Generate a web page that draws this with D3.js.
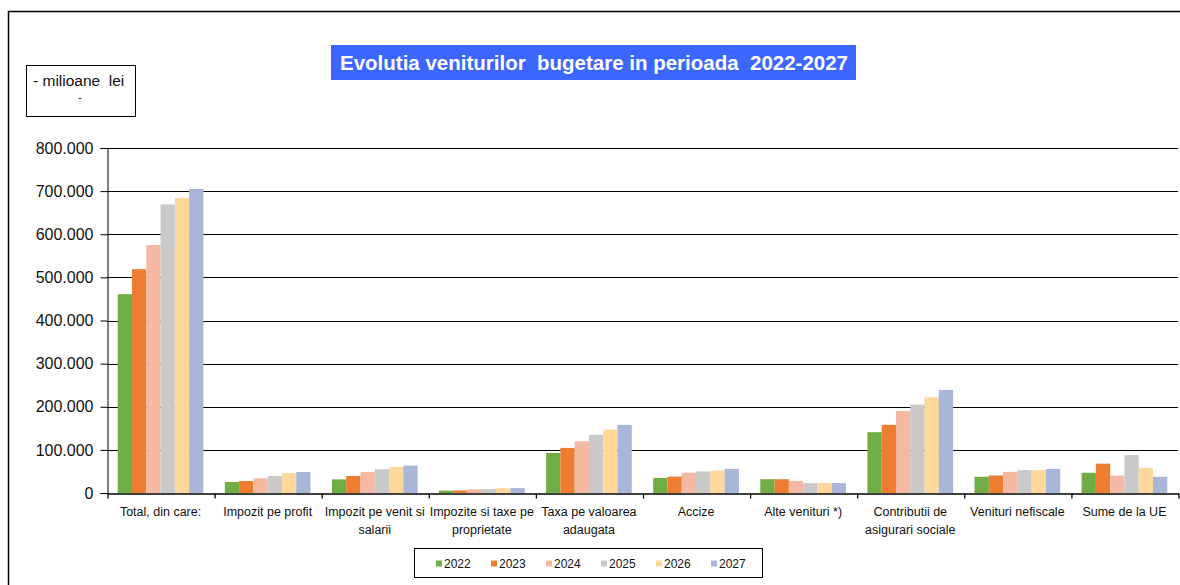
<!DOCTYPE html>
<html>
<head>
<meta charset="utf-8">
<script src="https://cdn.jsdelivr.net/npm/d3@7"></script>
<style>
	body { margin: 0; background: #fff; }
	svg { display: block; font-family: "Liberation Sans", Arial, sans-serif; }
	.pre { white-space: pre; }
</style>
</head>
<body>
<script>
//categories, two lines each for the axis labels
let categories = [
	["Total, din care:"],
	["Impozit pe profit"],
	["Impozit pe venit si", "salarii"],
	["Impozite si taxe pe", "proprietate"],
	["Taxa pe valoarea", "adaugata"],
	["Accize"],
	["Alte venituri *)"],
	["Contributii de", "asigurari sociale"],
	["Venituri nefiscale"],
	["Sume de la UE"]
];

let years = ["2022", "2023", "2024", "2025", "2026", "2027"];

//values per year, in the same order as categories (milioane lei)
let v2022 = [461000, 25500, 31600, 5500, 93000, 35000, 32000, 141000, 37600, 47000];
let v2023 = [519000, 27800, 39400, 6000, 104600, 38000, 32000, 158000, 40600, 68000];
let v2024 = [575000, 34000, 48700, 8500, 120000, 47000, 28000, 190000, 49000, 40600];
let v2025 = [669000, 39400, 55000, 9000, 135000, 50000, 23000, 205000, 53000, 88000];
let v2026 = [684000, 46000, 60300, 11000, 147000, 52000, 23000, 222000, 53000, 58500];
let v2027 = [705000, 48700, 63400, 11500, 158000, 56000, 23000, 239000, 56000, 37600];

let yTicks = [0, 100000, 200000, 300000, 400000, 500000, 600000, 700000, 800000];

let colors = ["#70ad47", "#ed7d31", "#f4b8a3", "#c9c9c9", "#fed79b", "#a8b6da"];

let series = [v2022, v2023, v2024, v2025, v2026, v2027];

let svg = d3.select("body").append("svg")
	.attr("width", 1180)
	.attr("height", 585);

//outer frame (top and left edges only are visible)
svg.append("path")
	.attr("d", "M8.5,585 V11.5 H1180")
	.attr("fill", "none")
	.attr("stroke", "#000")
	.attr("stroke-width", 1.5);

//title
svg.append("rect")
	.attr("x", 331).attr("y", 45)
	.attr("width", 525).attr("height", 35)
	.attr("fill", "#3b66ff");

svg.append("text")
	.attr("class", "pre")
	.attr("x", 340).attr("y", 70)
	.attr("fill", "#fff")
	.attr("font-weight", "bold")
	.attr("font-size", 21)
	.attr("textLength", 508)
	.attr("lengthAdjust", "spacingAndGlyphs")
	.text("Evolutia veniturilor  bugetare in perioada  2022-2027");

//unit box
svg.append("rect")
	.attr("x", 26.5).attr("y", 65.5)
	.attr("width", 109).attr("height", 51)
	.attr("fill", "none")
	.attr("stroke", "#000");

svg.append("text")
	.attr("class", "pre")
	.attr("x", 33).attr("y", 86)
	.attr("font-size", 15.5)
	.attr("fill", "#111")
	.text("- milioane  lei");

svg.append("text")
	.attr("x", 80).attr("y", 101)
	.attr("font-size", 10)
	.attr("text-anchor", "middle")
	.attr("fill", "#111")
	.text("-");

/*
	SCALES
*/
let plotLeft = 107, plotRight = 1178, plotTop = 148, plotBottom = 493;

let x0 = d3.scaleBand()
	.domain(d3.range(categories.length))
	.range([plotLeft, plotRight])
	.paddingInner(0.2)
	.paddingOuter(0.1);

let x1 = d3.scaleBand()
	.domain(years)
	.range([0, x0.bandwidth()]);

let y = d3.scaleLinear()
	.domain([0, 800000])
	.range([plotBottom, plotTop]);

let ro = d3.formatLocale({decimal: ",", thousands: ".", grouping: [3], currency: ["", ""]});

//gridlines
svg.append("g")
	.selectAll("line")
	.data(yTicks.slice(1))
	.join("line")
	.attr("x1", plotLeft).attr("x2", plotRight)
	.attr("y1", d => Math.round(y(d)) + 0.5)
	.attr("y2", d => Math.round(y(d)) + 0.5)
	.attr("stroke", "#000");

//bars
let groups = svg.append("g")
	.selectAll("g")
	.data(categories.map((c, i) => i))
	.join("g")
	.attr("transform", i => `translate(${x0(i)},0)`);

groups.selectAll("rect")
	.data(i => years.map((yr, k) => ({yr: yr, val: series[k][i], k: k})))
	.join("rect")
	.attr("x", d => x1(d.yr))
	.attr("width", x1.bandwidth())
	.attr("y", d => y(d.val))
	.attr("height", d => y(0) - y(d.val))
	.attr("fill", d => colors[d.k]);

//y axis
let yG = svg.append("g")
	.attr("transform", `translate(${plotLeft + 0.5},0)`)
	.call(d3.axisLeft(y).tickValues(yTicks).tickSize(7).tickPadding(7).tickFormat(ro.format(",")));

yG.selectAll("text")
	.attr("font-size", 16)
	.attr("font-family", "Liberation Sans, Arial, sans-serif")
	.attr("fill", "#111");
yG.selectAll("line, path").attr("stroke", "#000");

//x axis with ticks on category boundaries
let xb = d3.scaleLinear()
	.domain([0, categories.length])
	.range([plotLeft, plotRight]);

let xG = svg.append("g")
	.attr("transform", `translate(0.5,${plotBottom + 0.5})`)
	.call(d3.axisBottom(xb).tickValues(d3.range(categories.length + 1)).tickSize(5).tickSizeOuter(0).tickFormat(""));
xG.selectAll("line, path").attr("stroke", "#000").attr("stroke-width", 1.3);

//category labels
let labels = svg.append("g")
	.selectAll("text")
	.data(categories)
	.join("text")
	.attr("x", (c, i) => x0(i) + x0.bandwidth() / 2)
	.attr("y", 516)
	.attr("text-anchor", "middle")
	.attr("font-size", 12.5)
	.attr("fill", "#111");

labels.selectAll("tspan")
	.data(c => c)
	.join("tspan")
	.attr("x", function() { return d3.select(this.parentNode).attr("x"); })
	.attr("dy", (d, j) => j === 0 ? 0 : 17.5)
	.text(d => d);

/*
	LEGEND
*/
svg.append("rect")
	.attr("x", 414.5).attr("y", 548.5)
	.attr("width", 348).attr("height", 29)
	.attr("fill", "#fff")
	.attr("stroke", "#000");

let leg = svg.append("g")
	.selectAll("g")
	.data(years)
	.join("g")
	.attr("transform", (d, i) => `translate(${436 + i * 55},0)`);

leg.append("rect")
	.attr("x", 0).attr("y", 560.5)
	.attr("width", 6).attr("height", 6)
	.attr("fill", (d, i) => colors[i]);

leg.append("text")
	.attr("x", 8).attr("y", 568)
	.attr("font-size", 12)
	.attr("fill", "#111")
	.text(d => d);
</script>
</body>
</html>
